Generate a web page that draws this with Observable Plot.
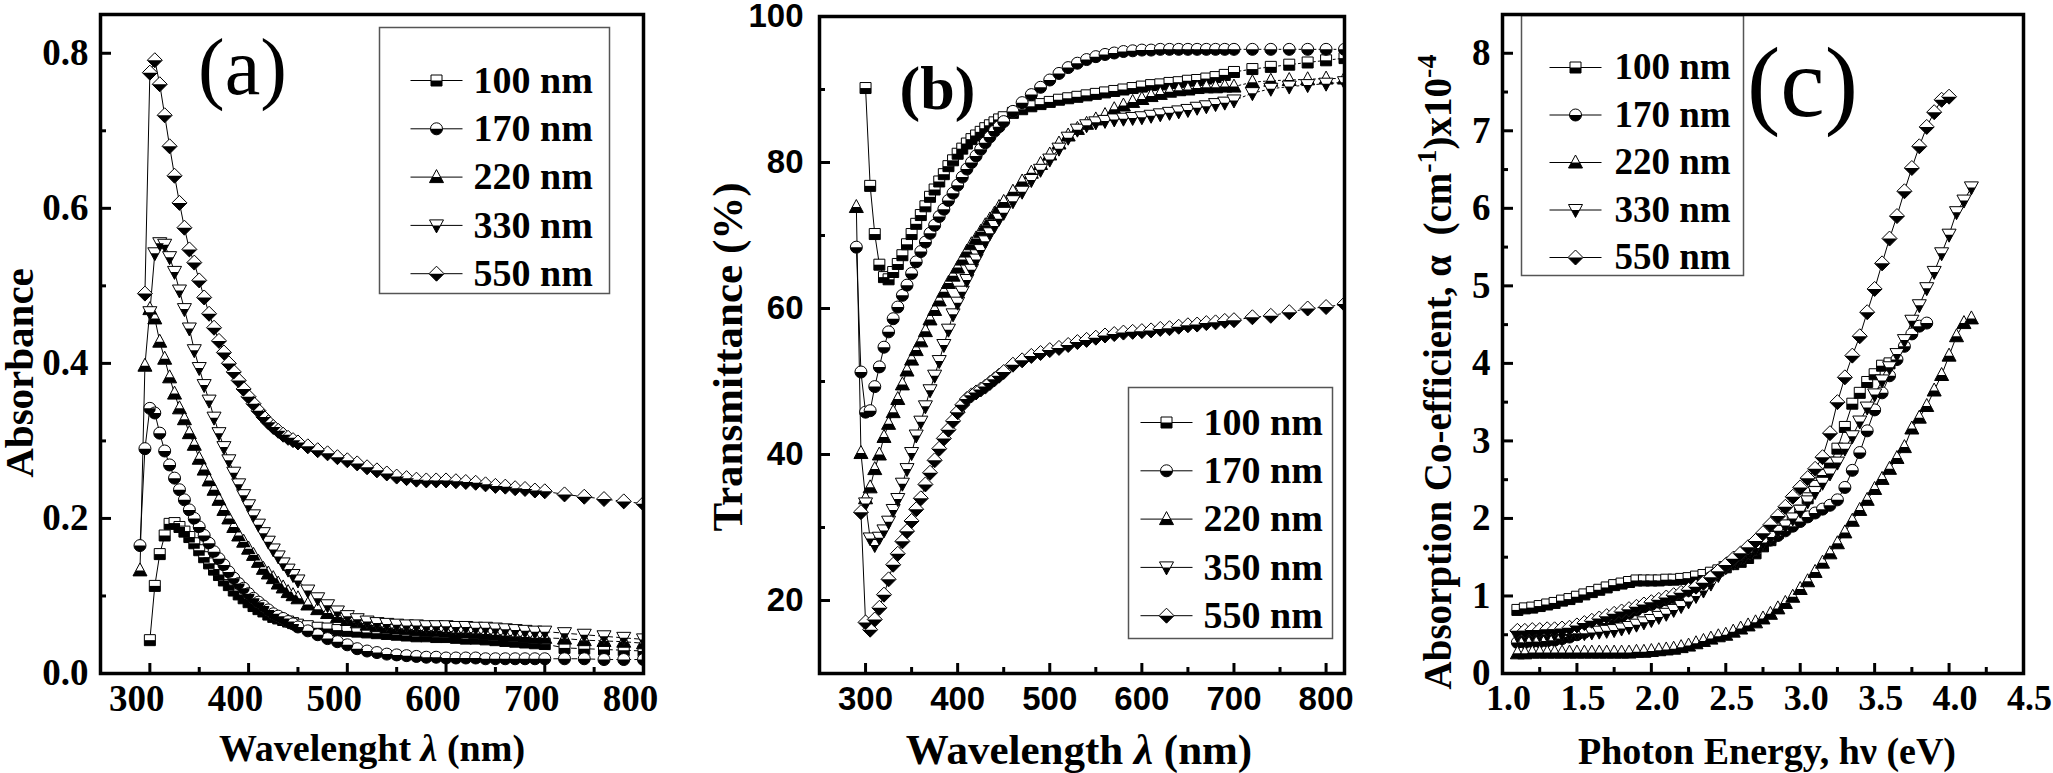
<!DOCTYPE html>
<html>
<head>
<meta charset="utf-8">
<script src="https://cdn.jsdelivr.net/npm/d3@7"></script>
<script src="https://cdn.jsdelivr.net/npm/@observablehq/plot@0.6"></script>
<style>
  html, body { margin: 0; padding: 0; background: #fff; }
  #fig { position: relative; width: 2053px; height: 773px; overflow: hidden; background: #fff; }
  #fig svg { position: absolute; top: 0; }
</style>
</head>
<body>
<div id="fig"></div>
<script>
// ---------- data ----------
// film thicknesses shown in each panel
const thicknessA = ["100 nm", "170 nm", "220 nm", "330 nm", "550 nm"];
const thicknessB = ["100 nm", "170 nm", "220 nm", "350 nm", "550 nm"];
const thicknessC = ["100 nm", "170 nm", "220 nm", "330 nm", "550 nm"];
const markerKinds = ["square", "circle", "triangle", "triangleDown", "diamond"];

// wavelength sampling (nm): 5 nm up to 450, 10 nm up to 700, 20 nm beyond
const wavelengths = [290,295,300,305,310,315,320,325,330,335,340,345,350,355,360,365,370,375,380,385,390,395,400,405,410,415,420,425,430,435,440,445,450,
  460,470,480,490,500,510,520,530,540,550,560,570,580,590,600,610,620,630,640,650,660,670,680,690,700,
  720,740,760,780,800,820];

// (a) absorbance
const abs100 = [null,null,0.043,0.113,0.154,0.178,0.193,0.194,0.189,0.183,0.176,0.168,0.159,0.150,0.142,0.134,0.127,0.120,0.114,0.107,0.102,0.097,0.092,0.087,0.083,0.080,0.076,0.073,0.071,0.069,0.067,0.065,0.063,
  0.061,0.059,0.058,0.056,0.055,0.054,0.053,0.052,0.051,0.050,0.049,0.048,0.048,0.047,0.047,0.046,0.045,0.045,0.044,0.043,0.042,0.041,0.040,0.039,0.038,
  0.033,0.032,0.031,0.030,0.029,null];
const abs170 = [0.165,0.290,0.342,0.336,0.310,0.287,0.269,0.252,0.237,0.224,0.211,0.200,0.189,0.178,0.168,0.157,0.148,0.140,0.131,0.123,0.116,0.110,0.103,0.097,0.092,0.087,0.082,0.077,0.074,0.071,0.067,0.064,0.060,
  0.055,0.050,0.045,0.041,0.037,0.032,0.029,0.027,0.025,0.024,0.023,0.022,0.021,0.021,0.020,0.020,0.020,0.020,0.019,0.019,0.019,0.019,0.019,0.019,0.019,
  0.019,0.019,0.018,0.018,0.018,null];
const abs220 = [0.133,0.397,0.470,0.458,0.428,0.406,0.382,0.361,0.342,0.328,0.310,0.295,0.277,0.263,0.249,0.237,0.224,0.211,0.200,0.189,0.178,0.170,0.161,0.153,0.144,0.135,0.129,0.123,0.116,0.111,0.105,0.101,0.097,
  0.089,0.083,0.078,0.073,0.069,0.066,0.063,0.061,0.059,0.058,0.057,0.056,0.055,0.055,0.054,0.053,0.053,0.052,0.051,0.050,0.049,0.048,0.047,0.046,0.046,
  0.045,0.043,0.042,0.041,0.039,null];
const abs330 = [null,null,0.466,0.542,0.555,0.553,0.537,0.518,0.494,0.470,0.445,0.417,0.394,0.372,0.352,0.330,0.310,0.292,0.275,0.259,0.244,0.230,0.217,0.204,0.192,0.181,0.170,0.160,0.151,0.142,0.134,0.127,0.120,
  0.107,0.097,0.088,0.080,0.074,0.070,0.067,0.065,0.064,0.063,0.062,0.062,0.061,0.061,0.061,0.060,0.060,0.059,0.059,0.058,0.057,0.056,0.055,0.054,0.054,
  0.052,0.050,0.048,0.046,0.044,null];
const abs550 = [null,0.490,0.775,0.791,0.760,0.720,0.680,0.642,0.607,0.575,0.547,0.530,0.507,0.485,0.464,0.446,0.429,0.414,0.400,0.389,0.378,0.367,0.357,0.348,0.339,0.331,0.324,0.318,0.313,0.308,0.304,0.301,0.298,
  0.293,0.288,0.284,0.279,0.275,0.271,0.266,0.262,0.258,0.254,0.252,0.250,0.249,0.249,0.249,0.248,0.247,0.246,0.244,0.242,0.241,0.239,0.238,0.236,0.235,
  0.231,0.228,0.225,0.222,0.219,null];

// (b) transmittance (%)
const tr100 = [null,null,90.2,76.8,70.2,66.0,64.3,64.0,65.0,66.1,67.3,68.8,70.2,71.6,72.8,74.0,75.3,76.3,77.4,78.4,79.5,80.3,81.2,81.9,82.6,83.2,83.7,84.2,84.7,85.1,85.5,85.9,86.2,
  86.8,87.3,87.7,88.0,88.3,88.6,88.8,89.0,89.2,89.4,89.6,89.8,90.0,90.2,90.4,90.6,90.7,90.9,91.0,91.2,91.3,91.5,91.7,92.0,92.4,
  92.8,93.1,93.4,93.7,94.0,94.3];
const tr170 = [68.4,51.3,45.8,46.0,49.3,52.0,54.7,56.8,58.6,60.2,61.8,63.2,64.8,66.4,67.8,69.1,70.3,71.4,72.6,73.6,74.8,75.8,76.9,78.0,79.1,80.0,80.9,81.8,82.7,83.5,84.3,84.9,85.6,
  87.0,88.2,89.3,90.3,91.3,92.2,93.0,93.6,94.1,94.5,94.8,95.0,95.2,95.3,95.4,95.4,95.5,95.5,95.5,95.5,95.5,95.5,95.5,95.5,95.5,
  95.5,95.5,95.5,95.5,95.5,95.5];
const tr220 = [73.9,40.2,34.0,35.5,38.0,40.0,42.4,44.2,45.8,47.6,49.6,51.5,53.0,54.3,55.5,56.9,58.5,59.8,61.1,62.3,63.5,64.5,65.6,66.7,67.8,68.8,69.6,70.5,71.4,72.2,73.0,73.9,74.6,
  76.0,77.4,78.6,79.8,81.1,82.6,83.7,84.6,85.3,85.9,86.5,87.3,87.8,88.3,88.7,89.1,89.4,89.7,89.9,90.0,90.2,90.3,90.3,90.4,90.4,
  91.0,91.2,91.3,91.4,91.5,91.5];
const tr350 = [null,null,33.3,28.5,27.6,28.6,29.6,30.8,32.4,33.9,36.0,38.0,40.2,42.6,44.5,46.6,48.8,50.8,52.8,55.0,57.1,59.2,60.8,62.3,63.9,65.3,66.7,68.0,69.2,70.3,71.3,72.3,73.1,
  74.7,76.0,77.6,79.0,80.4,81.9,83.4,84.5,85.1,85.5,85.7,85.9,86.0,86.1,86.2,86.4,86.6,86.8,87.0,87.2,87.5,87.7,88.0,88.2,88.5,
  89.5,90.1,90.4,90.6,90.8,91.0];
const tr550 = [null,32.1,17.0,16.0,17.4,19.0,20.8,22.9,24.9,26.4,28.1,29.5,30.9,32.5,34.0,35.9,37.5,39.2,40.8,42.2,43.4,44.6,45.8,46.8,47.6,48.1,48.5,48.9,49.3,49.8,50.3,50.8,51.3,
  52.3,52.9,53.5,53.9,54.3,54.6,55.0,55.4,55.7,56.0,56.3,56.5,56.7,56.8,56.9,57.0,57.2,57.3,57.5,57.7,57.8,58.0,58.1,58.3,58.4,
  58.8,59.0,59.5,60.0,60.2,60.6];

// (c) photon energy (eV) and absorption coefficient (x10^4 cm^-1)
const energies = [1.10,1.15,1.20,1.25,1.30,1.35,1.40,1.45,1.50,1.55,1.60,1.65,1.70,1.75,1.80,1.85,1.90,1.95,2.00,2.05,
  2.10,2.15,2.20,2.25,2.30,2.35,2.40,2.45,2.50,2.55,2.60,2.65,2.70,2.75,2.80,2.85,2.90,2.95,3.00,3.05,
  3.10,3.15,3.20,3.25,3.30,3.35,3.40,3.45,3.50,3.55,3.60,3.65,3.70,3.75,3.80,3.85,3.90,3.95,4.00,4.05,4.10,4.15];
const alpha100 = [0.82,0.84,0.85,0.87,0.89,0.91,0.94,0.96,0.99,1.02,1.05,1.08,1.11,1.14,1.16,1.18,1.20,1.20,1.20,1.20,
  1.21,1.21,1.22,1.23,1.25,1.27,1.30,1.33,1.37,1.41,1.44,1.49,1.55,1.64,1.72,1.81,1.89,1.99,2.10,2.26,
  2.42,2.56,2.72,2.90,3.18,3.48,3.62,3.76,3.86,3.97,4.00,null,null,null,null,null,null,null,null,null,null,null];
const alpha170 = [0.40,0.40,0.41,0.41,0.42,0.43,0.45,0.47,0.50,0.53,0.57,0.61,0.65,0.70,0.74,0.78,0.82,0.86,0.89,0.92,
  0.95,0.98,1.02,1.06,1.11,1.17,1.24,1.31,1.37,1.43,1.48,1.54,1.60,1.66,1.72,1.78,1.84,1.90,1.96,2.02,
  2.07,2.12,2.17,2.24,2.40,2.62,2.85,3.13,3.40,3.62,3.84,4.05,4.22,4.38,4.48,4.52,null,null,null,null,null,null];
const alpha220 = [0.26,0.26,0.27,0.27,0.27,0.27,0.27,0.27,0.27,0.27,0.27,0.27,0.27,0.27,0.27,0.27,0.28,0.28,0.29,0.30,
  0.31,0.32,0.34,0.36,0.39,0.42,0.45,0.48,0.50,0.54,0.58,0.62,0.66,0.71,0.77,0.84,0.91,0.99,1.09,1.19,
  1.31,1.43,1.55,1.68,1.82,1.97,2.11,2.24,2.38,2.51,2.64,2.78,2.92,3.16,3.30,3.45,3.65,3.85,4.10,4.35,4.52,4.58];
const alpha330 = [0.49,0.49,0.50,0.50,0.50,0.51,0.51,0.51,0.52,0.52,0.53,0.54,0.55,0.56,0.58,0.60,0.63,0.66,0.69,0.73,
  0.77,0.82,0.87,0.93,1.00,1.07,1.16,1.27,1.37,1.43,1.50,1.56,1.62,1.69,1.76,1.84,1.91,2.00,2.10,2.22,
  2.34,2.46,2.58,2.72,2.90,3.06,3.25,3.43,3.60,3.78,3.95,4.12,4.30,4.55,4.75,4.97,5.18,5.42,5.66,5.95,6.10,6.27];
const alpha550 = [0.55,0.55,0.56,0.56,0.57,0.57,0.58,0.59,0.62,0.65,0.68,0.71,0.74,0.77,0.80,0.83,0.86,0.89,0.92,0.95,
  0.98,1.01,1.04,1.08,1.12,1.17,1.24,1.32,1.40,1.48,1.55,1.63,1.71,1.81,1.92,2.03,2.15,2.28,2.40,2.52,
  2.64,2.79,3.10,3.50,3.82,4.10,4.35,4.66,4.96,5.29,5.61,5.90,6.22,6.52,6.80,7.05,7.24,7.40,7.44,null,null,null];

// axis ticks
const ticksAx = [300, 400, 500, 600, 700, 800], minorAx = [350, 450, 550, 650, 750];
const ticksAy = [0, 0.2, 0.4, 0.6, 0.8], minorAy = [0.1, 0.3, 0.5, 0.7];
const ticksBx = [300, 400, 500, 600, 700, 800], minorBx = [350, 450, 550, 650, 750];
const ticksBy = [20, 40, 60, 80, 100], minorBy = [30, 50, 70, 90];
const ticksCx = [1.0, 1.5, 2.0, 2.5, 3.0, 3.5, 4.0, 4.5], minorCx = [1.25, 1.75, 2.25, 2.75, 3.25, 3.75, 4.25];
const ticksCy = [0, 1, 2, 3, 4, 5, 6, 7, 8], minorCy = [0.5, 1.5, 2.5, 3.5, 4.5, 5.5, 6.5, 7.5];

// ---------- drawing helpers ----------
const SERIF = "'Liberation Serif','Times New Roman',Times,serif";
const SANS = "'Liberation Sans',Arial,Helvetica,sans-serif";

function poly(c, pts) {
  c.moveTo(pts[0][0], pts[0][1]);
  for (let i = 1; i < pts.length; ++i) c.lineTo(pts[i][0], pts[i][1]);
  c.closePath();
}
// half-filled markers: white outline shape plus black lower half
const SHAPES = {
  square: {
    full: {draw(c) { c.rect(-5.5, -5.5, 11, 11); }},
    half: {draw(c) { c.rect(-5.5, 0, 11, 5.5); }}
  },
  circle: {
    full: {draw(c) { c.moveTo(6, 0); c.arc(0, 0, 6, 0, 2 * Math.PI); }},
    half: {draw(c) { c.moveTo(6, 0); c.arc(0, 0, 6, 0, Math.PI); c.closePath(); }}
  },
  triangle: {
    full: {draw(c) { poly(c, [[0, -7.5], [7, 5.5], [-7, 5.5]]); }},
    half: {draw(c) { poly(c, [[-4.04, 0], [4.04, 0], [7, 5.5], [-7, 5.5]]); }}
  },
  triangleDown: {
    full: {draw(c) { poly(c, [[0, 7.5], [7, -5.5], [-7, -5.5]]); }},
    half: {draw(c) { poly(c, [[-4.04, 0], [4.04, 0], [0, 7.5]]); }}
  },
  diamond: {
    full: {draw(c) { poly(c, [[0, -7.5], [7.5, 0], [0, 7.5], [-7.5, 0]]); }},
    half: {draw(c) { poly(c, [[-7.5, 0], [7.5, 0], [0, 7.5]]); }}
  }
};
const LEGEND_LINE = {draw(c) { c.moveTo(-26, 0); c.lineTo(26, 0); }};

function tidy(xs, names, columns) {
  return names.flatMap((s, k) => columns[k].map((v, i) => ({x: xs[i], v, s})).filter(d => d.v != null));
}

function seriesMarks(rows, names, cut, dash) {
  const marks = [];
  const solid = cut == null ? rows : rows.filter(d => d.x <= cut);
  marks.push(Plot.line(solid, {x: "x", y: "v", z: "s", stroke: "black", strokeWidth: 1, clip: true}));
  if (cut != null) {
    marks.push(Plot.line(rows.filter(d => d.x >= cut), {x: "x", y: "v", z: "s", stroke: "black", strokeWidth: 1, strokeDasharray: dash, clip: true}));
  }
  names.forEach((name, k) => {
    const d = rows.filter(r => r.s === name);
    const shape = SHAPES[markerKinds[k]];
    marks.push(Plot.dot(d, {x: "x", y: "v", symbol: shape.full, r: 1, fill: "white", stroke: "black", strokeWidth: 1, clip: true}));
    marks.push(Plot.dot(d, {x: "x", y: "v", symbol: shape.half, r: 1, fill: "black", stroke: "none", clip: true}));
  });
  return marks;
}

function legendMarks(names, box, x0, y0, step, textDx, fontSize) {
  const marks = [Plot.frame({...box, stroke: "#555", strokeWidth: 1.5, fill: "white"})];
  names.forEach((name, i) => {
    const at = {frameAnchor: "top-left", dx: x0, dy: y0 + i * step};
    const shape = SHAPES[markerKinds[i]];
    marks.push(Plot.dot([name], {...at, symbol: LEGEND_LINE, r: 1, stroke: "black", strokeWidth: 1, fill: "none"}));
    marks.push(Plot.dot([name], {...at, symbol: shape.full, r: 1, fill: "white", stroke: "black", strokeWidth: 1}));
    marks.push(Plot.dot([name], {...at, symbol: shape.half, r: 1, fill: "black", stroke: "none"}));
    marks.push(Plot.text([name], {frameAnchor: "top-left", dx: textDx, dy: y0 + i * step, text: d => d,
      textAnchor: "start", lineAnchor: "middle", fontFamily: SERIF, fontWeight: "bold", fontSize}));
  });
  return marks;
}

function tickMarks(pw, ph, xM, xm, yM, ym) {
  return [
    Plot.tickX(xM, {x: d => d, insetTop: ph - 10, strokeWidth: 3}),
    Plot.tickX(xm, {x: d => d, insetTop: ph - 6, strokeWidth: 3}),
    Plot.tickY(yM, {y: d => d, insetRight: pw - 11, strokeWidth: 3}),
    Plot.tickY(ym, {y: d => d, insetRight: pw - 6, strokeWidth: 3})
  ];
}

function title(str, o) {
  return Plot.text([str], {text: d => d, fontFamily: SERIF, fontWeight: "bold", ...o});
}

const RICH = {
  "Wavelenght λ (nm)": 'Wavelenght <tspan font-style="italic">λ</tspan> (nm)',
  "Wavelength λ (nm)": 'Wavelength <tspan font-style="italic">λ</tspan> (nm)',
  "Absorption Co-efficient, α (cm-1)x10-4":
    'Absorption Co-efficient, α&#160;&#160;(cm<tspan dy="-15" font-size="28">-1</tspan><tspan dy="15">)x10</tspan><tspan dy="-15" font-size="28">-4</tspan>'
};

function place(svg, left) {
  for (const t of svg.querySelectorAll("text")) {
    const r = RICH[t.textContent];
    if (r) t.innerHTML = r;
  }
  svg.style.left = left + "px";
  document.getElementById("fig").appendChild(svg);
}

const H = 773;

// ---------- (a) absorbance ----------
{
  const W = 680, m = {top: 14, right: 37, bottom: 100, left: 100};
  const pw = W - m.left - m.right, ph = H - m.top - m.bottom;
  const rows = tidy(wavelengths, thicknessA, [abs100, abs170, abs220, abs330, abs550]);
  const svg = Plot.plot({
    width: W, height: H, marginTop: m.top, marginRight: m.right, marginBottom: m.bottom, marginLeft: m.left,
    style: "background: transparent; overflow: visible;",
    x: {domain: [250, 800]},
    y: {domain: [0, 0.85]},
    marks: [
      ...seriesMarks(rows, thicknessA, 700, "5,4"),
      ...legendMarks(thicknessA, {insetLeft: 279, insetRight: 34, insetTop: 13, insetBottom: 380}, 336, 66, 48.3, 373, 38),
      ...tickMarks(pw, ph, ticksAx, minorAx, ticksAy, minorAy),
      Plot.frame({stroke: "black", strokeWidth: 3.5}),
      Plot.axisX({ticks: ticksAx, tickSize: 0, tickPadding: 11, tickFormat: d => String(d), dx: -13,
        fontFamily: SERIF, fontSize: 37, fontWeight: "bold", label: null}),
      Plot.axisY({ticks: ticksAy, tickSize: 0, tickPadding: 12, tickFormat: d3.format(".1f"),
        fontFamily: SERIF, fontSize: 37, fontWeight: "bold", label: null}),
      title("Wavelenght λ (nm)", {frameAnchor: "bottom", dy: 87, lineAnchor: "bottom", fontSize: 38}),
      title("Absorbance", {frameAnchor: "left", dx: -81, dy: 29, rotate: -90, textAnchor: "middle", lineAnchor: "middle", fontSize: 41}),
      Plot.text(["(a)"], {text: d => d, frameAnchor: "top-left", dx: 142, dy: 79, textAnchor: "middle", lineAnchor: "bottom",
        fontFamily: SERIF, fontSize: 80})
    ]
  });
  place(svg, 0);
}

// ---------- (b) transmittance ----------
{
  const W = 700, m = {top: 16, right: 36, bottom: 100, left: 139};
  const pw = W - m.left - m.right, ph = H - m.top - m.bottom;
  const rows = tidy(wavelengths, thicknessB, [tr100, tr170, tr220, tr350, tr550]);
  const svg = Plot.plot({
    width: W, height: H, marginTop: m.top, marginRight: m.right, marginBottom: m.bottom, marginLeft: m.left,
    style: "background: transparent; overflow: visible;",
    x: {domain: [250, 820]},
    y: {domain: [10, 100]},
    marks: [
      ...seriesMarks(rows, thicknessB, 700, "2,3"),
      ...legendMarks(thicknessB, {insetLeft: 309, insetRight: 12, insetTop: 371, insetBottom: 35}, 347, 406, 48.3, 384, 38),
      ...tickMarks(pw, ph, ticksBx, minorBx, ticksBy, minorBy),
      Plot.frame({stroke: "black", strokeWidth: 3.5}),
      Plot.axisX({ticks: ticksBx, tickSize: 0, tickPadding: 13, tickFormat: d => String(d),
        fontFamily: SANS, fontSize: 33, fontWeight: "bold", label: null}),
      Plot.axisY({ticks: ticksBy, tickSize: 0, tickPadding: 16, tickFormat: d => String(d),
        fontFamily: SANS, fontSize: 33, fontWeight: "bold", label: null}),
      title("Wavelength λ (nm)", {frameAnchor: "bottom", dx: -3, dy: 90, lineAnchor: "bottom", fontSize: 43}),
      title("Transmittance (%)", {frameAnchor: "left", dx: -91, dy: 12, rotate: -90, textAnchor: "middle", lineAnchor: "middle", fontSize: 43}),
      title("(b)", {frameAnchor: "top-left", dx: 118, dy: 92, textAnchor: "middle", lineAnchor: "bottom", fontSize: 62})
    ]
  });
  place(svg, 680);
}

// ---------- (c) absorption coefficient ----------
{
  const W = 673, m = {top: 14, right: 30, bottom: 100, left: 122};
  const pw = W - m.left - m.right, ph = H - m.top - m.bottom;
  const rows = tidy(energies, thicknessC, [alpha100, alpha170, alpha220, alpha330, alpha550]);
  const svg = Plot.plot({
    width: W, height: H, marginTop: m.top, marginRight: m.right, marginBottom: m.bottom, marginLeft: m.left,
    style: "background: transparent; overflow: visible;",
    x: {domain: [1.0, 4.5]},
    y: {domain: [0, 8.5]},
    marks: [
      ...seriesMarks(rows, thicknessC, null, null),
      ...legendMarks(thicknessC, {insetLeft: 19, insetRight: 280, insetTop: 1, insetBottom: 398}, 73, 53, 47.5, 112, 37),
      ...tickMarks(pw, ph, ticksCx, minorCx, ticksCy, minorCy),
      Plot.frame({stroke: "black", strokeWidth: 3.5}),
      Plot.axisX({ticks: ticksCx, tickSize: 0, tickPadding: 11, tickFormat: d3.format(".1f"), dx: 6,
        fontFamily: SERIF, fontSize: 36, fontWeight: "bold", label: null}),
      Plot.axisY({ticks: ticksCy, tickSize: 0, tickPadding: 12, tickFormat: d => String(d),
        fontFamily: SERIF, fontSize: 37, fontWeight: "bold", label: null}),
      title("Photon Energy, hν (eV)", {frameAnchor: "bottom", dx: 4, dy: 90, lineAnchor: "bottom", fontSize: 38}),
      title("Absorption Co-efficient, α (cm-1)x10-4", {frameAnchor: "left", dx: -64, dy: 28, rotate: -90, textAnchor: "middle", lineAnchor: "middle", fontSize: 39}),
      Plot.text(["(c)"], {text: d => d, frameAnchor: "top-left", dx: 300, dy: 101, textAnchor: "middle", lineAnchor: "bottom",
        fontFamily: SERIF, fontSize: 100})
    ]
  });
  place(svg, 1380);
}
</script>
</body>
</html>
